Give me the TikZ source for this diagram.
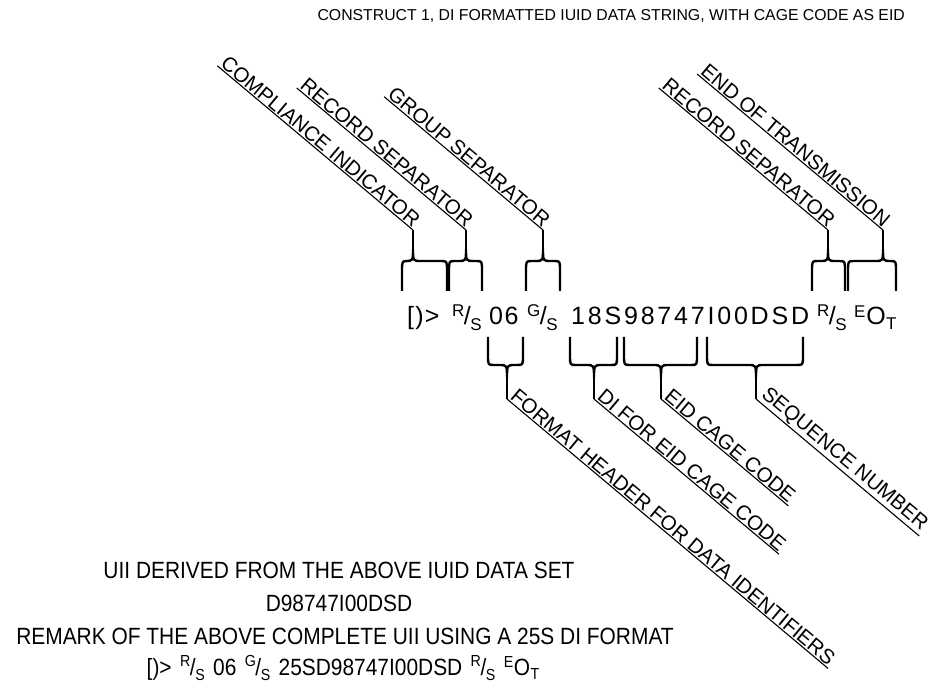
\documentclass[tikz,border=0pt]{standalone}
\usepackage{fontspec}
\setmainfont{Liberation Sans}
\usepackage{graphicx}
\def\lspaced#1#2{\def\lsamount{#1}\lspacedaux#2\lspacedend}
\def\lspacedaux#1{\ifx#1\lspacedend\else#1\kern\lsamount\relax\expandafter\lspacedaux\fi}
\let\lspacedend\relax
\newcommand\ctlsep[2]{\raisebox{0.36em}{\scalebox{0.68}{#1}}\kern-0.02em/\kern-0.02em\raisebox{-0.22em}{\scalebox{0.68}{#2}}}
\newcommand\eotsym{\raisebox{0.3em}{\scalebox{0.68}{E}}\kern0.03em O\kern0.02em\raisebox{-0.2em}{\scalebox{0.68}{T}}}
\newcommand\narrowtxt[1]{\scalebox{0.89}[1]{#1}}
\tikzset{
  bracestyle/.style={line width=2.4pt, line join=round},
  stemstyle/.style={line width=1.7pt},
  uline/.style={line width=1.1pt},
  lab/.style={font=\fontsize{20.5}{24}\selectfont, inner xsep=1.5pt, inner ysep=1.2pt, rotate=-40},
  mainstr/.style={font=\fontsize{25}{28}\selectfont, inner sep=0pt, anchor=base west},
  btxt/.style={font=\fontsize{23.5}{26}\selectfont, inner sep=0pt, anchor=base}
}
\newcommand\upbrace[4]{%
  \draw[bracestyle] (#2,291) -- (#2,271) .. controls (#2,261) .. (#2+6,261) -- (#3-8,261)
    .. controls (#3,261) .. (#3,249) .. controls (#3,261) .. (#3+8,261) -- (#4-6,261)
    .. controls (#4,261) .. (#4,271) -- (#4,291);
  \coordinate (#1-cusp) at (#3,249);
  \coordinate (#1-tip) at (#3,230);
  \draw[stemstyle] (#1-cusp) -- (#1-tip);
}
\newcommand\downbrace[4]{%
  \draw[bracestyle] (#2,337) -- (#2,355) .. controls (#2,365) .. (#2+6,365) -- (#3-8,365)
    .. controls (#3,365) .. (#3,378) .. controls (#3,365) .. (#3+8,365) -- (#4-6,365)
    .. controls (#4,365) .. (#4,355) -- (#4,337);
  \coordinate (#1-cusp) at (#3,378);
  \coordinate (#1-tip) at (#3,399);
  \draw[stemstyle] (#1-cusp) -- (#1-tip);
}
\begin{document}
\begin{tikzpicture}[x=1pt,y=-1pt]
\useasboundingbox (0,0) rectangle (931,692);
% title
\node[font=\fontsize{15.8}{18}\selectfont, inner sep=0pt, anchor=base east] (title) at (905,21)
  {CONSTRUCT 1, DI FORMATTED IUID DATA STRING, WITH CAGE CODE AS EID};
% main string
\node[mainstr] (s1) at (407,325) {\lspaced{1.2pt}{[)>}};
\node[mainstr] (s2) at (452,325) {\ctlsep{R}{S}};
\node[mainstr] (s3) at (489,325) {\lspaced{1.5pt}{06}};
\node[mainstr] (s4) at (527,325) {\ctlsep{G}{S}};
\node[mainstr] (s5) at (571,325) {\lspaced{2.8pt}{18S98747I00DSD}};
\node[mainstr] (s6) at (817,325) {\ctlsep{R}{S}};
\node[mainstr] (s7) at (854,325) {\eotsym};
% upper braces
\upbrace{ci}{402}{413}{447}
\upbrace{rs}{449}{466}{482}
\upbrace{gs}{526}{543}{560}
\upbrace{rt}{812}{828}{845}
\upbrace{eo}{848}{883}{896}
% lower braces
\downbrace{fh}{488}{507}{523}
\downbrace{di}{570}{594}{617}
\downbrace{ei}{624}{661}{697}
\downbrace{sq}{707}{756}{803}
% upper labels
\node[lab, anchor=south east] (lci) at (ci-tip) {COMPLIANCE INDICATOR};
\draw[uline] (lci.south west) -- (ci-tip);
\node[lab, anchor=south east] (lrs) at (rs-tip) {RECORD SEPARATOR};
\draw[uline] (lrs.south west) -- (rs-tip);
\node[lab, anchor=south east] (lgs) at (gs-tip) {GROUP SEPARATOR};
\draw[uline] (lgs.south west) -- (gs-tip);
\node[lab, anchor=south east] (lrt) at (rt-tip) {RECORD SEPARATOR};
\draw[uline] (lrt.south west) -- (rt-tip);
\node[lab, anchor=south east] (leo) at (eo-tip) {END OF TRANSMISSION};
\draw[uline] (leo.south west) -- (eo-tip);
% lower labels
\node[lab, anchor=south west] (lfh) at (fh-tip) {FORMAT HEADER FOR DATA IDENTIFIERS};
\draw[uline] (fh-tip) -- (lfh.south east);
\node[lab, anchor=south west] (ldi) at (di-tip) {DI FOR EID CAGE CODE};
\draw[uline] (di-tip) -- (ldi.south east);
\node[lab, anchor=south west] (lei) at (ei-tip) {EID CAGE CODE};
\draw[uline] (ei-tip) -- (lei.south east);
\node[lab, anchor=south west] (lsq) at (sq-tip) {SEQUENCE NUMBER};
\draw[uline] (sq-tip) -- (lsq.south east);
% bottom text
\node[btxt] (b1) at (339,578) {\narrowtxt{UII DERIVED FROM THE ABOVE IUID DATA SET}};
\node[btxt] (b2) at (339,611) {\narrowtxt{D98747I00DSD}};
\node[btxt] (b3) at (345,644) {\narrowtxt{REMARK OF THE ABOVE COMPLETE UII USING A 25S DI FORMAT}};
\node[btxt] (b4) at (343,675) {\narrowtxt{[)>\kern0.4em\ctlsep{R}{S}\kern0.4em06\kern0.4em\ctlsep{G}{S}\kern0.4em25SD98747I00DSD\kern0.4em\ctlsep{R}{S}\kern0.4em\eotsym}};
\end{tikzpicture}
\end{document}
